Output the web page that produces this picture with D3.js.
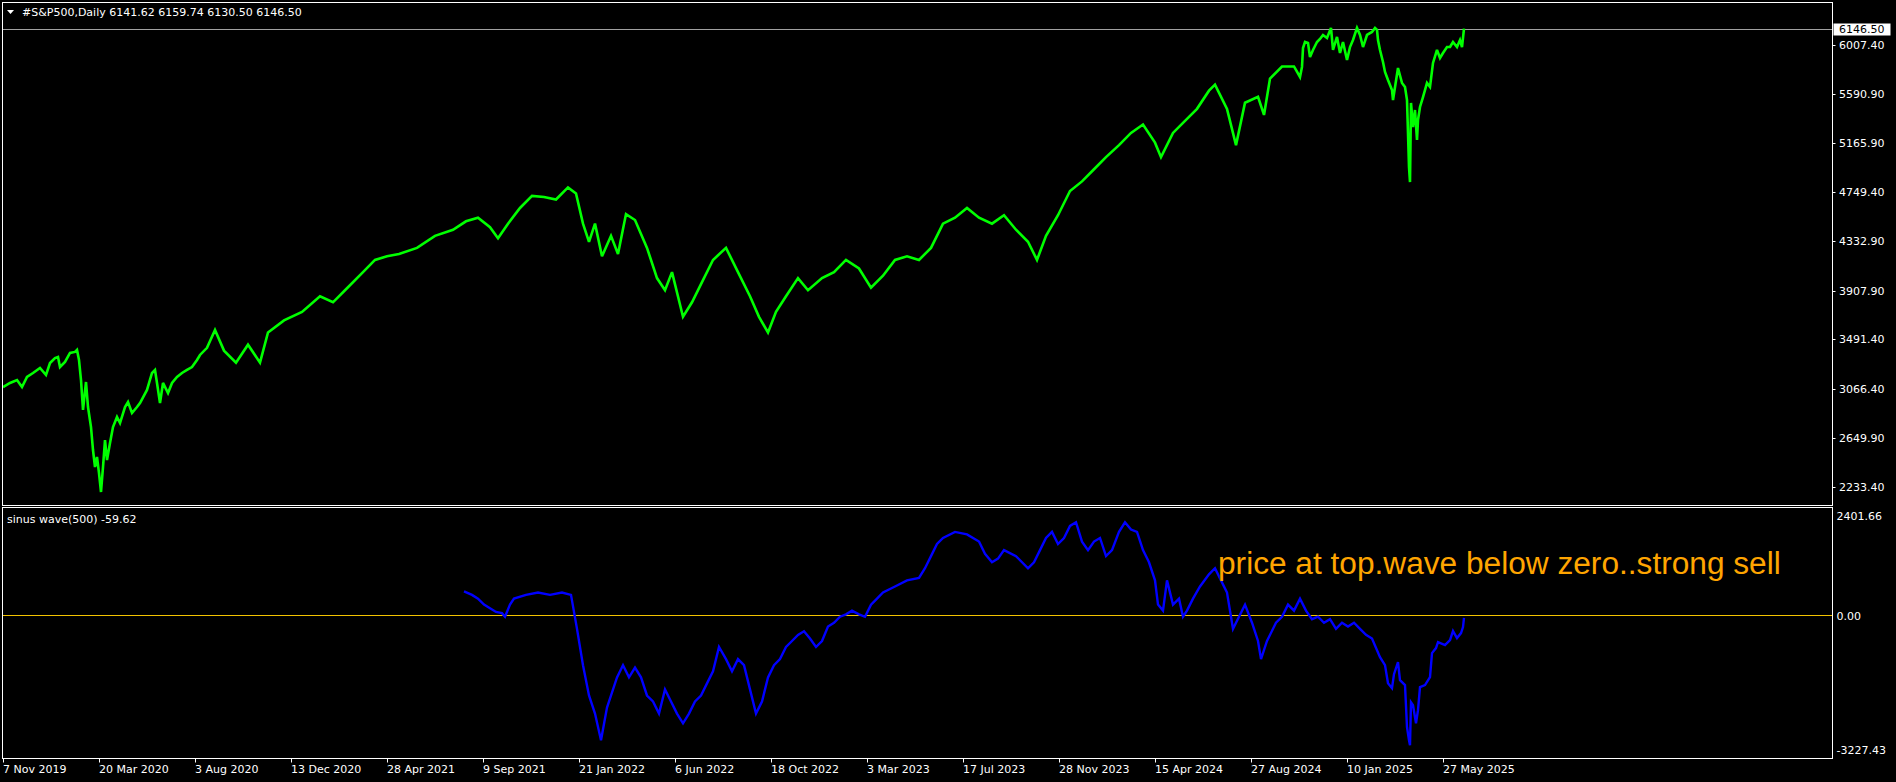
<!DOCTYPE html>
<html><head><meta charset="utf-8">
<script src="https://cdn.jsdelivr.net/npm/d3@7"></script>
<style>
html,body{margin:0;padding:0;background:#000;overflow:hidden}
svg{display:block}
text{font-family:"DejaVu Sans",sans-serif;font-size:11px;fill:#fff}
</style></head><body>
<svg id="c" width="1896" height="782"></svg>
<script>
// ---------- data ----------
const symbolName = "#S&P500,Daily";
const ohlc = [6141.62, 6159.74, 6130.50, 6146.50];
const lastPrice = 6146.50;
const waveName = "sinus wave(500)";
const waveLast = -59.62;
const note = "price at top.wave below zero..strong sell";

// trading-day index of each sample and price
const priceBars = [0,7,14,19,24,30,37,43,47,52,55,57,62,67,72,74,76,78,80,83,85,88,90,92,94,96,98,100,102,104,107,110,114,117,122,125,129,134,137,144,149,152,154,157,160,165,169,174,179,184,189,194,197,204,212,221,233,245,257,265,281,299,317,330,342,360,372,384,396,414,432,450,463,475,487,495,505,517,529,541,553,565,573,580,586,592,599,608,615,623,632,644,654,662,669,680,689,698,710,723,735,747,756,765,773,783,795,805,819,831,843,856,868,880,892,904,916,928,940,952,964,976,989,1001,1013,1025,1034,1043,1055,1067,1079,1091,1103,1116,1128,1140,1152,1158,1170,1182,1194,1206,1212,1224,1233,1242,1255,1261,1267,1279,1291,1297,1299,1300,1302,1305,1307,1310,1314,1317,1320,1324,1328,1330,1334,1337,1340,1344,1347,1350,1354,1357,1360,1364,1369,1372,1374,1375,1377,1380,1382,1385,1389,1390,1395,1399,1402,1404,1405,1406,1407,1408,1410,1412,1414,1415,1417,1420,1424,1427,1430,1434,1437,1440,1444,1447,1450,1454,1457,1459,1461];
const priceValues = [3085,3120,3145,3085,3171,3205,3248,3188,3290,3333,3342,3256,3299,3376,3385,3402,3316,3145,2889,3128,2914,2743,2547,2401,2487,2350,2188,2401,2632,2461,2607,2743,2829,2777,2914,2957,2863,2914,2948,3060,3205,3231,3120,2948,3120,3034,3120,3171,3205,3231,3256,3316,3359,3420,3572,3396,3293,3447,3293,3551,3654,3727,3861,3809,3912,4067,4171,4202,4222,4274,4377,4429,4501,4532,4450,4357,4481,4615,4718,4708,4687,4791,4739,4481,4326,4481,4202,4377,4222,4563,4512,4274,4016,3912,4067,3685,3809,3964,4171,4274,4067,3861,3685,3551,3727,3861,4016,3912,4016,4067,4171,4098,3933,4036,4171,4202,4171,4274,4481,4532,4615,4532,4481,4553,4429,4326,4171,4377,4553,4760,4842,4946,5049,5152,5256,5328,5173,5049,5256,5359,5462,5617,5669,5462,5152,5514,5565,5410,5720,5824,5824,5734,5820,5982,6033,6024,5905,5965,6033,6059,6093,6067,6153,5965,6076,5939,6033,5879,5990,6050,6153,6093,5990,6093,6119,6153,6136,6050,5965,5862,5777,5708,5623,5537,5811,5683,5649,5537,5255,4965,4836,5512,5307,5452,5196,5367,5478,5563,5683,5649,5854,5965,5896,5939,5990,5990,6033,5990,6050,5990,6146.5];

const waveBars = [461,469,475,481,487,493,499,502,507,511,523,535,547,559,568,574,580,586,592,598,604,614,620,626,632,638,644,650,656,662,668,674,680,686,692,698,704,710,716,723,729,735,741,747,753,759,765,771,777,783,789,795,801,807,813,819,825,831,837,843,849,856,862,868,874,880,892,904,916,922,928,934,940,952,964,976,982,989,995,1001,1013,1025,1031,1037,1043,1049,1055,1061,1067,1073,1079,1085,1091,1097,1103,1109,1116,1122,1128,1134,1140,1146,1152,1155,1160,1164,1170,1176,1180,1184,1190,1197,1206,1212,1218,1224,1230,1236,1242,1249,1255,1258,1264,1273,1279,1285,1291,1297,1303,1309,1315,1321,1327,1333,1339,1345,1351,1357,1363,1369,1377,1382,1385,1389,1391,1395,1397,1402,1404,1406,1407,1408,1410,1413,1415,1417,1422,1427,1429,1433,1435,1442,1447,1450,1454,1458,1460,1461];
const waveValues = [578,492,402,258,171,82,53,-34,258,402,492,549,492,549,492,-325,-1200,-1928,-2364,-3005,-2220,-1492,-1200,-1492,-1258,-1492,-1928,-2073,-2364,-1781,-2073,-2364,-2598,-2364,-2073,-1928,-1636,-1345,-762,-1053,-1345,-1053,-1200,-1781,-2364,-2073,-1492,-1200,-1053,-762,-617,-470,-383,-559,-762,-617,-268,-178,-34,24,113,24,-34,258,402,549,694,841,899,1133,1424,1716,1861,2007,1947,1774,1482,1277,1364,1569,1424,1133,1277,1569,1861,2007,1716,1861,2152,2239,1774,1569,1774,1861,1424,1569,2007,2239,2065,2007,1569,1277,841,258,113,841,258,402,-34,113,402,694,986,1133,841,549,-325,-34,258,-178,-617,-1053,-617,-178,-34,258,113,402,113,-92,-34,-178,-92,-325,-178,-268,-178,-325,-470,-559,-1005,-1198,-1632,-1752,-1415,-1126,-1559,-1677,-2692,-3005,-3126,-2090,-2162,-2596,-2282,-1726,-1677,-1484,-909,-788,-643,-716,-595,-378,-547,-427,-282,-59.62];

const priceTicks = [6007.40, 5590.90, 5165.90, 4749.40, 4332.90, 3907.90, 3491.40, 3066.40, 2649.90, 2233.40];
const waveTicks = [2401.66, 0.00, -3227.43];
const dateLabels = ["7 Nov 2019","20 Mar 2020","3 Aug 2020","13 Dec 2020","28 Apr 2021","9 Sep 2021","21 Jan 2022","6 Jun 2022","18 Oct 2022","3 Mar 2023","17 Jul 2023","28 Nov 2023","15 Apr 2024","27 Aug 2024","10 Jan 2025","27 May 2025"];
const dateLabelBars = [0,96,192,288,384,480,576,672,768,864,960,1056,1152,1248,1344,1440];
const lastBar = 1461;

// ---------- layout ----------
const L = 2.5, R = 1832.5;
const pTop = 2.5, pBot = 505.5;
const wTop = 507.5, wBot = 758.5;
const fmt = v => d3.format(".2f")(v).replace("\u2212", "-");

const svg = d3.select("#c");
svg.append("rect").attr("width",1896).attr("height",782).attr("fill","#000");

const x = d3.scaleLinear().domain([0, lastBar]).range([3, 1464]);
const yP = d3.scaleLinear().domain([2233.4, 6007.4]).range([486.7, 45]);
const yW = d3.scaleLinear().domain([-3227.43, 2401.66]).range([749.5, 515.5]);

const defs = svg.append("defs");
defs.append("clipPath").attr("id","cp").append("rect").attr("x",L).attr("y",pTop).attr("width",R-L).attr("height",pBot-pTop);
defs.append("clipPath").attr("id","cw").append("rect").attr("x",L).attr("y",wTop).attr("width",R-L).attr("height",wBot-wTop);

// current price line
const yl = Math.round(yP(lastPrice)) + 0.5;
svg.append("line").attr("x1",L).attr("x2",R).attr("y1",yl).attr("y2",yl).attr("stroke","#a0a0a0").attr("stroke-width",1);

// price series
const priceData = priceBars.map((b,i)=>[b, priceValues[i]]);
svg.append("g").attr("clip-path","url(#cp)").append("path")
  .datum(priceData)
  .attr("d", d3.line().x(d=>x(d[0])).y(d=>yP(d[1])))
  .attr("fill","none").attr("stroke","#00ff00").attr("stroke-width",2.6).attr("stroke-linejoin","miter").attr("stroke-miterlimit",3);

// zero level
const yz = Math.round(yW(0)) + 0.5;
svg.append("line").attr("x1",L).attr("x2",R).attr("y1",yz).attr("y2",yz).attr("stroke","#f2c200").attr("stroke-width",1);

// wave series
const waveData = waveBars.map((b,i)=>[b, waveValues[i]]);
svg.append("g").attr("clip-path","url(#cw)").append("path")
  .datum(waveData)
  .attr("d", d3.line().x(d=>x(d[0])).y(d=>yW(d[1])))
  .attr("fill","none").attr("stroke","#0000ff").attr("stroke-width",2.4);

// frames
svg.append("rect").attr("x",L).attr("y",pTop).attr("width",R-L).attr("height",pBot-pTop).attr("fill","none").attr("stroke","#fff");
svg.append("rect").attr("x",L).attr("y",wTop).attr("width",R-L).attr("height",wBot-wTop).attr("fill","none").attr("stroke","#fff");

// price axis
const pa = svg.append("g");
priceTicks.forEach(v=>{
  const yy = Math.round(yP(v)) + 0.5;
  pa.append("line").attr("x1",R).attr("x2",R+3).attr("y1",yy).attr("y2",yy).attr("stroke","#fff");
  pa.append("text").attr("x",1839).attr("y",yy).attr("dy","0.36em").text(fmt(v));
});
// last price box
const lb = pa.append("g");
lb.append("rect").attr("x",R+1).attr("y",yl-6).attr("width",57).attr("height",12).attr("fill","#fff");
lb.append("text").attr("x",1839).attr("y",yl).attr("dy","0.36em").style("fill","#000").text(fmt(lastPrice));

// wave axis
waveTicks.forEach(v=>{
  const yy = yW(v);
  svg.append("text").attr("x",1836.5).attr("y",yy+1).attr("dy","0.36em").text(fmt(v));
});

// date axis
dateLabelBars.forEach((b,i)=>{
  const xx = Math.round(x(b)) + 0.5;
  svg.append("line").attr("x1",xx).attr("x2",xx).attr("y1",wBot).attr("y2",wBot+4).attr("stroke","#fff");
  svg.append("text").attr("x",xx-0.5).attr("y",769).attr("dy","0.36em").text(dateLabels[i]);
});

// header
svg.append("path").attr("d","M7,10 L14,10 L10.5,14 Z").attr("fill","#fff");
svg.append("text").attr("x",22).attr("y",12.5).attr("dy","0.36em")
  .text(symbolName + "  " + ohlc.map(fmt).join(" "));
svg.append("text").attr("x",7).attr("y",519).attr("dy","0.36em")
  .text(waveName + " " + fmt(waveLast));

// annotation
const t = svg.append("text").attr("x",1218).attr("y",574)
  .style("font-family","'Liberation Sans', Arial, sans-serif").style("font-size","31px").style("fill","#ffa500")
  .text(note);
const w = t.node().getComputedTextLength();
t.style("font-size", (31*563/w).toFixed(2)+"px");
</script>
</body></html>
